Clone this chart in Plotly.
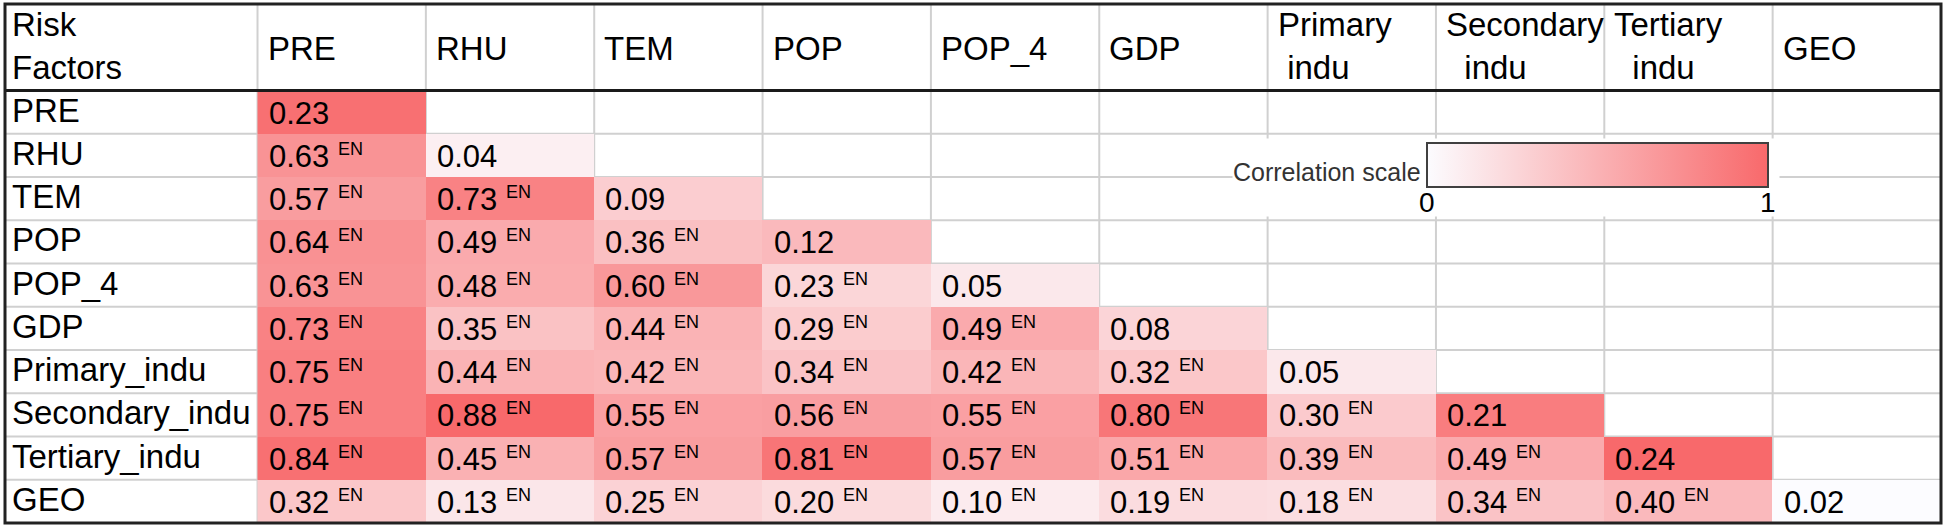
import plotly.graph_objects as go

# ---------------- data ----------------
factors = ["PRE", "RHU", "TEM", "POP", "POP_4", "GDP",
           "Primary_indu", "Secondary_indu", "Tertiary_indu", "GEO"]
col_headers = ["PRE", "RHU", "TEM", "POP", "POP_4", "GDP",
               "Primary<br>\u00a0indu", "Secondary<br>\u00a0\u00a0indu",
               "Tertiary<br>\u00a0\u00a0indu", "GEO"]
corner_label = "Risk<br>Factors"

row_PRE = [0.23]
row_RHU = [0.63, 0.04]
row_TEM = [0.57, 0.73, 0.09]
row_POP = [0.64, 0.49, 0.36, 0.12]
row_POP_4 = [0.63, 0.48, 0.60, 0.23, 0.05]
row_GDP = [0.73, 0.35, 0.44, 0.29, 0.49, 0.08]
row_Primary = [0.75, 0.44, 0.42, 0.34, 0.42, 0.32, 0.05]
row_Secondary = [0.75, 0.88, 0.55, 0.56, 0.55, 0.80, 0.30, 0.21]
row_Tertiary = [0.84, 0.45, 0.57, 0.81, 0.57, 0.51, 0.39, 0.49, 0.24]
row_GEO = [0.32, 0.13, 0.25, 0.20, 0.10, 0.19, 0.18, 0.34, 0.40, 0.02]
values = [row_PRE, row_RHU, row_TEM, row_POP, row_POP_4, row_GDP,
          row_Primary, row_Secondary, row_Tertiary, row_GEO]
interaction_label = "EN"   # marked on every off-diagonal pair
scale_title = "Correlation scale"
scale_ticks = [0, 1]

# ---------------- style ----------------
FONT = "Liberation Sans, Arial, sans-serif"
W, H = 1946, 530
ML, MR, MT, MB = 5, 5, 4, 7
PW, PH = W - ML - MR, H - MT - MB
COLW = PW / 11.5       # px per data column
ROWH = PH / 12.0       # px per row
LOW, HIGH = "#FCFCFF", "#F8696B"
CB_X0, CB_X1, CB_TOP, CB_H = 1427, 1768, 143, 44

n = len(factors)
diag = [values[i][i] for i in range(n)]
off = [v for i in range(n) for j, v in enumerate(values[i]) if j < i]
off_max = max(off)
dmin, dmax = min(diag), max(diag)

z = [[None] * n for _ in range(n)]
for i in range(n):
    for j, v in enumerate(values[i]):
        z[i][j] = (v - dmin) / (dmax - dmin) if i == j else v / off_max

fig = go.Figure()
fig.add_trace(go.Heatmap(
    z=z, x=[j + 0.5 for j in range(n)], y=[i + 0.5 for i in range(n)],
    colorscale=[[0, LOW], [1, HIGH]], zmin=scale_ticks[0], zmax=scale_ticks[-1],
    hoverinfo="skip",
    colorbar=dict(
        orientation="h", lenmode="pixels", len=CB_X1 - CB_X0,
        thicknessmode="pixels", thickness=CB_H,
        x=((CB_X0 + CB_X1) / 2 - ML) / PW, xanchor="center",
        y=(H - MB - CB_TOP) / PH, yanchor="top",
        xpad=0, ypad=0, outlinewidth=2, outlinecolor="#404040",
        tickvals=scale_ticks, showticklabels=False, ticks="",
    ),
))

shapes = []
grid = dict(color="#D0D0D0", width=2)
for k in range(0, n):
    shapes.append(dict(type="line", x0=k, x1=k, y0=-2, y1=n, line=grid, layer="below"))
for k in range(1, n):
    shapes.append(dict(type="line", x0=-1.5, x1=n, y0=k, y1=k, line=grid, layer="below"))
# white box behind the colour scale legend
shapes.append(dict(type="rect", x0=(1233 - 258) / COLW, x1=(1780 - 258) / COLW,
                   y0=(138 - 90) / ROWH, y1=(216 - 90) / ROWH,
                   fillcolor="white", line=dict(width=0), layer="below"))
shapes.append(dict(type="line", x0=-1.5, x1=n, y0=0, y1=0,
                   line=dict(color="#1a1a1a", width=3), layer="above"))
shapes.append(dict(type="rect", xref="paper", yref="paper", x0=0, x1=1, y0=0, y1=1,
                   line=dict(color="#222", width=3), layer="above"))

ann = []
lab_pad = 5 / COLW
cell_pad = 9 / COLW
ann.append(dict(x=-1.5 + lab_pad, y=-1, text=corner_label, showarrow=False,
                xanchor="left", yanchor="middle", align="left", yshift=1,
                font=dict(family=FONT, size=33, color="#000")))
for j, h in enumerate(col_headers):
    ann.append(dict(x=j + cell_pad - 1 / COLW, y=-1, text=h, showarrow=False,
                    xanchor="left", yanchor="middle", align="left",
                    yshift=1 if "<br>" in h else -1,
                    font=dict(family=FONT, size=33, color="#000")))
for i, f in enumerate(factors):
    ann.append(dict(x=-1.5 + lab_pad, y=i + 0.5, text=f, showarrow=False,
                    xanchor="left", yanchor="middle", yshift=2,
                    font=dict(family=FONT, size=33, color="#000")))
for i in range(n):
    for j, v in enumerate(values[i]):
        ann.append(dict(x=j + cell_pad, y=i + 0.5, text=f"{v:.2f}", showarrow=False,
                        xanchor="left", yanchor="middle", yshift=-1,
                        font=dict(family=FONT, size=31, color="#000")))
        if j < i:
            ann.append(dict(x=j + 78 / COLW, y=i + 16 / ROWH, text=interaction_label,
                            showarrow=False, xanchor="left", yanchor="middle", yshift=1,
                            font=dict(family=FONT, size=18, color="#000")))
ann.append(dict(x=(1423 - 258) / COLW, y=(171 - 90) / ROWH, text=scale_title,
                showarrow=False, xanchor="right", yanchor="middle",
                font=dict(family=FONT, size=25, color="#333")))
# colour-scale end labels, placed under the ends of the bar
for t, px in zip(scale_ticks, (CB_X0, CB_X1)):
    ann.append(dict(xref="paper", yref="paper", x=(px - ML) / PW,
                    y=(H - MB - (CB_TOP + CB_H - 2)) / PH, text=str(t),
                    showarrow=False, xanchor="center", yanchor="top",
                    font=dict(family=FONT, size=28, color="#000")))

fig.update_layout(
    width=W, height=H,
    margin=dict(l=ML, r=MR, t=MT, b=MB, autoexpand=False),
    paper_bgcolor="white", plot_bgcolor="white",
    xaxis=dict(range=[-1.5, n], visible=False, fixedrange=True),
    yaxis=dict(range=[n, -2], visible=False, fixedrange=True),
    shapes=shapes, annotations=ann, showlegend=False,
)
fig.write_html("out.html", config={"displayModeBar": False},
               post_script="document.body.style.margin='0';document.body.style.overflow='hidden';")
